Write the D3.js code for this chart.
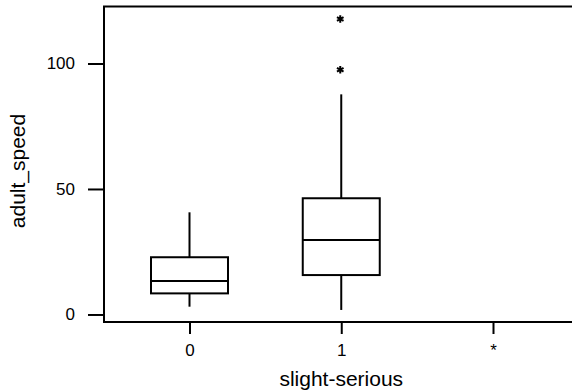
<!DOCTYPE html>
<html>
<head>
<meta charset="utf-8">
<script src="https://cdn.jsdelivr.net/npm/d3@7"></script>
<style>
  html, body { margin: 0; padding: 0; background: #fff; }
  svg { display: block; font-family: Arial, "Liberation Sans", sans-serif; }
</style>
</head>
<body>
<svg id="chart" width="572" height="392"></svg>
<script>
// Groups on the x axis
const categories = ["0", "1", "*"];
// Five-number summaries per group (lower whisker, Q1, median, Q3, upper whisker)
const lowerWhisker = [3.1, 1.8];
const q1 = [8.4, 15.7];
const median = [13.3, 29.7];
const q3 = [22.8, 46.3];
const upperWhisker = [40.7, 87.7];
// Outliers: group index and value
const outlierGroup = [1, 1];
const outlierValue = [117.7, 97.5];
// Y axis tick values
const yTicks = [0, 50, 100];

const svg = d3.select("#chart");
const plotLeft = 104, plotTop = 6.5, plotBottom = 322, plotRight = 574;

const y = d3.scaleLinear().domain([-3.0, 122.7]).range([plotBottom, plotTop]);
const x = d3.scalePoint().domain(categories).range([189.5, 493]);
const boxW = 77;

// frame: left, top, bottom edges
svg.append("path")
  .attr("d", `M${plotRight},${plotTop}H${plotLeft}V${plotBottom}H${plotRight}`)
  .attr("fill", "none").attr("stroke", "#000").attr("stroke-width", 2);

// y axis (ticks outside the frame)
const yAxis = svg.append("g").attr("transform", `translate(${plotLeft - 1},0)`)
  .call(d3.axisLeft(y).tickValues(yTicks).tickSize(15).tickPadding(13).tickFormat(d3.format("d")));
yAxis.select(".domain").remove();
yAxis.selectAll(".tick line").attr("stroke", "#000").attr("stroke-width", 2);
yAxis.selectAll(".tick text").attr("font-size", 17).attr("fill", "#000")
  .attr("font-family", "Arial, 'Liberation Sans', sans-serif");

// x axis
const xAxis = svg.append("g").attr("transform", `translate(0,${plotBottom + 1})`)
  .call(d3.axisBottom(x).tickSize(11).tickPadding(10));
xAxis.select(".domain").remove();
xAxis.selectAll(".tick line").attr("stroke", "#000").attr("stroke-width", 2);
xAxis.selectAll(".tick text").attr("font-size", 17).attr("fill", "#000")
  .attr("font-family", "Arial, 'Liberation Sans', sans-serif");

// axis titles
svg.append("text").attr("x", (x("1"))).attr("y", 386)
  .attr("text-anchor", "middle").attr("font-size", 21).text("slight-serious");
svg.append("text").attr("transform", "translate(25,171) rotate(-90)")
  .attr("text-anchor", "middle").attr("font-size", 21).text("adult_speed");

// boxes
const boxes = svg.append("g").attr("stroke", "#000").attr("stroke-width", 2).attr("fill", "none");
q1.forEach((_, i) => {
  const cx = x(categories[i]);
  const g = boxes.append("g");
  g.append("line").attr("x1", cx).attr("x2", cx).attr("y1", y(q3[i])).attr("y2", y(upperWhisker[i]));
  g.append("line").attr("x1", cx).attr("x2", cx).attr("y1", y(q1[i])).attr("y2", y(lowerWhisker[i]));
  g.append("rect").attr("x", cx - boxW / 2).attr("width", boxW)
    .attr("y", y(q3[i])).attr("height", y(q1[i]) - y(q3[i]));
  g.append("line").attr("x1", cx - boxW / 2).attr("x2", cx + boxW / 2)
    .attr("y1", y(median[i])).attr("y2", y(median[i]));
});

// outliers as asterisks
const star = d3.symbol().type(d3.symbolAsterisk).size(40);
svg.append("g").selectAll("path").data(outlierValue).join("path")
  .attr("transform", (d, i) => `translate(${x(categories[outlierGroup[i]]) - 1},${y(d)})`)
  .attr("d", star).attr("fill", "none").attr("stroke", "#000").attr("stroke-width", 2);
</script>
</body>
</html>
